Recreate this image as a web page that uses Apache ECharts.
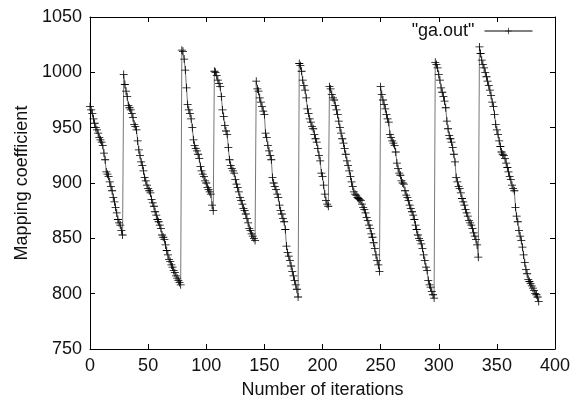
<!DOCTYPE html>
<html>
<head>
<meta charset="utf-8">
<script src="https://cdn.jsdelivr.net/npm/echarts@6/dist/echarts.min.js"></script>
<style>html,body{margin:0;padding:0;background:#fff}#c{width:581px;height:404px}</style>
</head>
<body>
<div id="c"></div>
<script>
var seriesName = '"ga.out"';
var xTicks = [0, 50, 100, 150, 200, 250, 300, 350, 400];
var yTicks = [750, 800, 850, 900, 950, 1000, 1050];
var cycle1 = [969, 966, 963, 958, 954, 950, 948, 945, 941, 939, 937, 934, 927, 921, 910, 908, 906, 901, 897, 893, 887, 883, 878, 873, 867, 864, 862, 857, 853];
var cycle2 = [998, 989, 983, 978, 970, 968, 966, 963, 959, 953, 951, 948, 938, 930, 925, 919, 916, 911, 905, 902, 898, 895, 893, 891, 885, 882, 879, 874, 871, 867, 865, 862, 859, 853, 851, 849, 844, 839, 835, 831, 829, 826, 824, 821, 819, 816, 814, 812, 810, 808];
var cycle3 = [1020, 1019, 1012, 1002, 986, 971, 966, 963, 958, 950, 939, 934, 931, 929, 926, 922, 915, 911, 908, 906, 902, 900, 896, 894, 892, 890, 880, 875];
var cycle4 = [1001, 1000, 997, 993, 990, 987, 978, 966, 960, 952, 947, 944, 932, 921, 916, 913, 911, 909, 903, 899, 896, 892, 887, 884, 881, 877, 875, 872, 868, 864, 859, 857, 854, 852, 850, 848];
var cycle5 = [992, 985, 983, 977, 973, 969, 965, 962, 945, 941, 934, 929, 925, 921, 905, 900, 897, 894, 890, 887, 880, 875, 872, 868, 865, 858, 843, 837, 834, 830, 825, 820, 816, 812, 808, 804, 797];
var cycle6 = [1008, 1006, 1001, 993, 988, 984, 977, 967, 963, 958, 955, 951, 949, 944, 940, 937, 931, 925, 920, 909, 906, 898, 890, 884, 881, 879];
var cycle7 = [987, 985, 980, 977, 975, 970, 966, 962, 956, 950, 945, 940, 936, 931, 926, 920, 916, 911, 906, 901, 897, 892, 890, 889, 887, 886, 885, 884, 881, 878, 876, 873, 869, 866, 862, 859, 854, 851, 846, 841, 835, 830, 826, 820];
var cycle8 = [987, 980, 975, 971, 967, 962, 958, 955, 944, 941, 938, 936, 934, 928, 918, 913, 909, 907, 902, 900, 899, 893, 889, 887, 884, 880, 877, 874, 871, 867, 862, 858, 853, 850, 848, 845, 841, 835, 830, 824, 821, 812, 808, 806, 802, 799, 796];
var cycle9 = [1009, 1007, 1004, 998, 993, 986, 982, 978, 974, 968, 956, 949, 943, 940, 937, 932, 926, 919, 905, 901, 897, 895, 891, 886, 883, 880, 876, 873, 870, 866, 864, 862, 859, 855, 852, 849, 844, 833];
var cycle10 = [1023, 1017, 1011, 1007, 1004, 1000, 996, 992, 988, 984, 979, 973, 969, 962, 953, 948, 944, 938, 933, 928, 926, 925, 922, 918, 914, 910, 906, 903, 898, 895, 893, 878, 870, 865, 857, 852, 848, 842, 835, 828, 822, 818, 813, 811, 809, 807, 805, 803, 800, 799, 797, 793];

var values = [].concat(cycle1, cycle2, cycle3, cycle4, cycle5, cycle6, cycle7, cycle8, cycle9, cycle10);
var points = values.map(function (v, i) { return [i, v]; });

var plus = 'path://M-0.1,-1h0.2v0.9h0.9v0.2h-0.9v0.9h-0.2v-0.9h-0.9v-0.2h0.9z';
var font = 'Liberation Sans';
var txt = '#111';
var fs = 18;

function axisBase(min, max, step, ticks, pos, showLabels) {
  return {
    type: 'value', position: pos, min: min, max: max, interval: step,
    axisLine: { show: true, onZero: false, lineStyle: { color: '#000', width: 1 } },
    axisTick: { show: true, inside: true, length: 5, lineStyle: { color: '#000' } },
    axisLabel: {
      show: showLabels, color: txt, fontFamily: font, fontSize: fs, margin: 8,
      customValues: ticks,
      formatter: function (v) { return String(v); }
    },
    splitLine: { show: false }
  };
}

var xb = axisBase(0, 400, 50, xTicks, 'bottom', true);
xb.name = 'Number of iterations'; xb.nameLocation = 'middle'; xb.nameGap = 32;
xb.nameTextStyle = { color: txt, fontFamily: font, fontSize: fs };
var xt = axisBase(0, 400, 50, xTicks, 'top', false);
var yl = axisBase(750, 1050, 50, yTicks, 'left', true);
yl.name = 'Mapping coefficient'; yl.nameLocation = 'middle'; yl.nameGap = 56;
yl.nameTextStyle = { color: txt, fontFamily: font, fontSize: fs };
var yr = axisBase(750, 1050, 50, yTicks, 'right', false);

var chart = echarts.init(document.getElementById('c'), null, { renderer: 'canvas' });
chart.setOption({
  animation: false,
  backgroundColor: '#fff',
  grid: { left: 90, right: 26, top: 17, bottom: 53, containLabel: false },
  legend: {
    data: [seriesName], right: 48, top: 22, align: 'right', padding: 0,
    itemWidth: 48, itemHeight: 8, itemGap: 0,
    lineStyle: { color: '#000', width: 1 },
    itemStyle: { color: '#000' },
    textStyle: { color: txt, fontFamily: font, fontSize: fs, padding: [0, 5, 0, 0] },
    selectedMode: false
  },
  xAxis: [xb, xt],
  yAxis: [yl, yr],
  series: [{
    name: seriesName, type: 'line', data: points,
    xAxisIndex: 0, yAxisIndex: 0,
    symbol: plus, symbolSize: 8, showSymbol: true, showAllSymbol: true,
    itemStyle: { color: '#000' },
    lineStyle: { color: '#777', width: 1 },
    emphasis: { disabled: true }
  }]
});
</script>
</body>
</html>
